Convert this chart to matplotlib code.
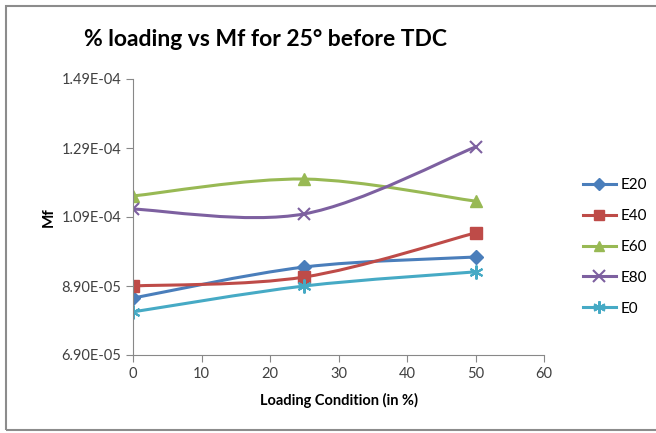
import numpy as np
import matplotlib
matplotlib.use('Agg')
import matplotlib.pyplot as plt
from matplotlib.path import Path
from matplotlib.patches import PathPatch, Rectangle
from matplotlib.lines import Line2D

plt.rcParams['font.family'] = ['Lato', 'DejaVu Sans']

# data
loading = [0, 25, 50]
e20 = [8.55e-5, 9.45e-5, 9.74e-5]
e40 = [8.90e-5, 9.16e-5, 1.044e-4]
e60 = [1.151e-4, 1.200e-4, 1.136e-4]
e80 = [1.113e-4, 1.099e-4, 1.293e-4]
e0 = [8.15e-5, 8.90e-5, 9.31e-5]
names = ['E20', 'E40', 'E60', 'E80', 'E0']
yticks = [6.9e-5, 8.9e-5, 1.09e-4, 1.29e-4, 1.49e-4]
ytick_labels = ['6.90E-05', '8.90E-05', '1.09E-04', '1.29E-04', '1.49E-04']

colors = ['#4a7ebb', '#be4b48', '#98b954', '#7d60a0', '#46aac5']
markers = ['D', 's', '^', 'x', (6, 2, 0)]
msizes = [7, 8, 8, 9, 10]


def smooth_path(xs, ys):
    # excel-like smoothed line: bezier through the points
    pts = np.column_stack([xs, ys])
    n = len(pts)
    verts = [pts[0]]
    codes = [Path.MOVETO]
    for i in range(n - 1):
        p0 = pts[max(i - 1, 0)]
        p1 = pts[i]
        p2 = pts[i + 1]
        p3 = pts[min(i + 2, n - 1)]
        c1 = p1 + (p2 - p0) / 6.0
        c2 = p2 - (p3 - p1) / 6.0
        verts += [c1, c2, p2]
        codes += [Path.CURVE4] * 3
    return Path(verts, codes)


fig = plt.figure(figsize=(6.56, 4.33), dpi=100)
fig.patches.append(Rectangle((6 / 656, 3 / 433), 1.0, 424 / 433, transform=fig.transFigure,
                             fill=False, edgecolor='#8c8c8c', linewidth=1.5))
ax = fig.add_axes([133 / 656, 78 / 433, 411 / 656, 276 / 433])

handles = []
for ys, c, m, ms, nm in zip([e20, e40, e60, e80, e0], colors, markers, msizes, names):
    ax.add_patch(PathPatch(smooth_path(loading, ys), facecolor='none', edgecolor=c, linewidth=2.2))
    mew = 1.5 if m in ('x',) or isinstance(m, tuple) else 1
    ax.plot(loading, ys, linestyle='none', marker=m, markersize=ms, color=c, markeredgewidth=mew)
    handles.append(Line2D([], [], color=c, linewidth=2.2, marker=m, markersize=ms - 1, markeredgewidth=mew))

ax.set_xlim(0, 60)
ax.set_ylim(6.9e-5, 1.49e-4)
ax.set_xticks(range(0, 61, 10))
ax.set_yticks(yticks)
ax.set_yticklabels(ytick_labels)
for s in ['top', 'right']:
    ax.spines[s].set_visible(False)
for s in ['left', 'bottom']:
    ax.spines[s].set_color('#888888')
ax.tick_params(colors='#888888', labelcolor='#404040', labelsize=10.5, length=5, direction='out')

ax.set_xlabel('Loading Condition (in %)', fontsize=10.5, fontweight='bold', labelpad=9)
ax.set_ylabel('Mf', fontsize=11, fontweight='bold', labelpad=4)
fig.text(266 / 656, 1 - 40 / 433, '% loading vs Mf for 25° before TDC', fontsize=16.5,
         fontweight='bold', ha='center', va='center')

fig.legend(handles, names, loc='center left', bbox_to_anchor=(575 / 656, 1 - 247 / 433),
           frameon=False, fontsize=11, handlelength=2.2, labelspacing=1.1, handletextpad=0.3,
           borderpad=0)

plt.savefig('out.png', dpi=100)
